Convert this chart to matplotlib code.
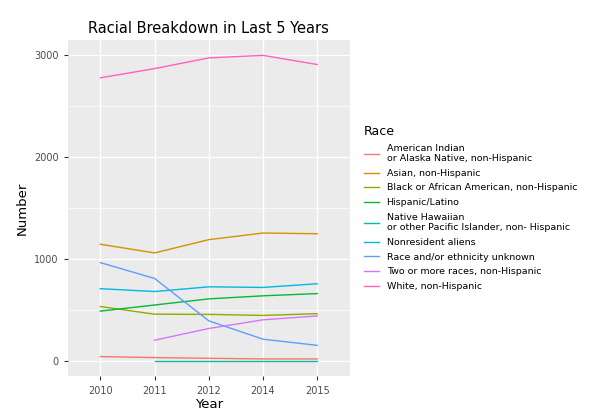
import matplotlib.pyplot as plt
import numpy as np

years = ["2010", "2011", "2012", "2014", "2015"]
races = ["American Indian\nor Alaska Native, non-Hispanic", "Asian, non-Hispanic",
         "Black or African American, non-Hispanic", "Hispanic/Latino",
         "Native Hawaiian\nor other Pacific Islander, non- Hispanic", "Nonresident aliens",
         "Race and/or ethnicity unknown", "Two or more races, non-Hispanic", "White, non-Hispanic"]
values = [
    [45, 35, 28, 22, 22],
    [1145, 1060, 1190, 1255, 1248],
    [535, 460, 458, 448, 465],
    [490, 550, 610, 640, 662],
    [None, 5, 5, 5, 5],
    [710, 682, 728, 722, 758],
    [965, 810, 395, 215, 155],
    [None, 205, 320, 405, 443],
    [2775, 2865, 2970, 2995, 2905],
]
colors = ["#F8766D", "#D39200", "#93AA00", "#00BA38", "#00C19F", "#00B9E3", "#619CFF", "#DB72FB", "#FF61C3"]

fig = plt.figure(figsize=(6, 4.16), dpi=100)
ax = fig.add_axes([0.113, 0.095, 0.47, 0.81])
ax.set_facecolor("#EBEBEB")
x = np.arange(len(years))
for name, vals, c in zip(races, values, colors):
    xs = [xi for xi, v in zip(x, vals) if v is not None]
    ys = [v for v in vals if v is not None]
    ax.plot(xs, ys, color=c, lw=1, label=name)
ax.set_xticks(x)
ax.set_xticklabels(years)
ax.set_xlim(-0.6, 4.6)
ax.set_ylim(-150, 3150)
ax.set_yticks([0, 1000, 2000, 3000])
ax.set_yticks([500, 1500, 2500], minor=True)
ax.grid(True, which="major", color="white", lw=1)
ax.grid(True, which="minor", color="white", lw=0.5)
ax.set_axisbelow(True)
for s in ax.spines.values():
    s.set_visible(False)
ax.tick_params(which="both", length=3, color="#333333", labelsize=7, labelcolor="#4D4D4D")
ax.tick_params(which="minor", length=0)
ax.set_xlabel("Year", fontsize=9.5, labelpad=2)
ax.set_ylabel("Number", fontsize=9.5)
ax.set_title("Racial Breakdown in Last 5 Years", fontsize=10.5, pad=5)
leg = ax.legend(loc="center left", bbox_to_anchor=(1.02, 0.5), frameon=False, fontsize=6.8,
                title="Race", title_fontsize=9, handlelength=1.6, labelspacing=0.6, alignment="left")
fig.savefig("out.png", dpi=100)
